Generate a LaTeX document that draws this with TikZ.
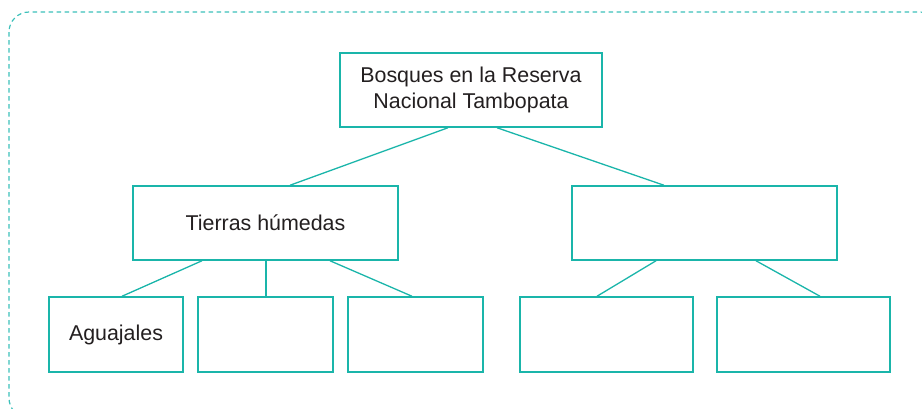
\documentclass[tikz,border=0pt]{standalone}
\usepackage{fontspec}
\setmainfont{Liberation Sans}
\definecolor{boxteal}{RGB}{26,181,170}
\definecolor{dashteal}{RGB}{60,192,186}
\definecolor{txt}{RGB}{35,31,32}
\begin{document}
\begin{tikzpicture}[x=1pt,y=-1pt,
  box/.style={draw=boxteal,line width=1.5pt,fill=white,inner sep=0pt,align=center,
    text=txt,font=\fontsize{21.4}{26}\selectfont},
  link/.style={draw=boxteal,line width=1.3pt}]
\useasboundingbox (0,0) rectangle (922,408);
\draw[dashteal,line width=1.2pt,dash pattern=on 4.5pt off 3.5pt,rounded corners=20pt]
  (9,12) rectangle (940,418);
\node[box,minimum width=262pt,minimum height=74pt] (top) at (471,90)
  {Bosques en la Reserva\\Nacional Tambopata};
\node[box,minimum width=265pt,minimum height=74pt] (tierras) at (265.5,223) {Tierras húmedas};
\node[box,minimum width=265pt,minimum height=74pt] (right) at (704.5,223) {};
\node[box,minimum width=134pt,minimum height=75pt] (b1) at (116,334.5) {Aguajales};
\node[box,minimum width=135pt,minimum height=75pt] (b2) at (265.5,334.5) {};
\node[box,minimum width=135pt,minimum height=75pt] (b3) at (415.5,334.5) {};
\node[box,minimum width=173pt,minimum height=75pt] (b4) at (606.5,334.5) {};
\node[box,minimum width=173pt,minimum height=75pt] (b5) at (803.5,334.5) {};
\draw[link] ([xshift=-23pt]top.south) -- ([xshift=24.5pt]tierras.north);
\draw[link] ([xshift=26pt]top.south) -- ([xshift=-40.5pt]right.north);
\draw[link] ([xshift=-63.5pt]tierras.south) -- ([xshift=6pt]b1.north);
\draw[link] ([xshift=0.5pt]tierras.south) -- ([xshift=0.5pt]b2.north);
\draw[link] ([xshift=64.5pt]tierras.south) -- ([xshift=-3.5pt]b3.north);
\draw[link] ([xshift=-48.5pt]right.south) -- ([xshift=-9.5pt]b4.north);
\draw[link] ([xshift=51.5pt]right.south) -- ([xshift=16.5pt]b5.north);
\end{tikzpicture}
\end{document}
